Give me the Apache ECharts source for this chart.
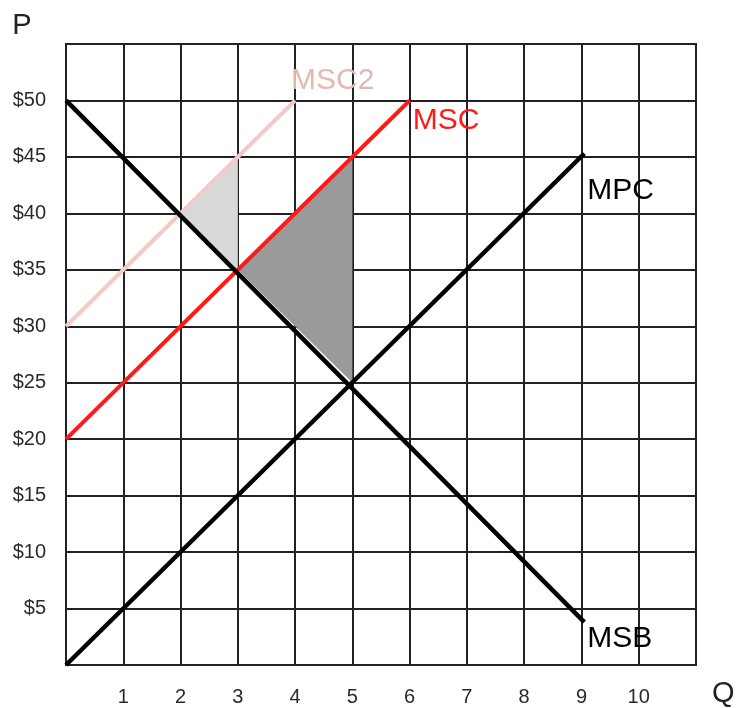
<!DOCTYPE html>
<html>
<head>
<meta charset="utf-8">
<script src="https://cdn.jsdelivr.net/npm/echarts@6/dist/echarts.min.js"></script>
<style>
html,body{margin:0;padding:0;background:#fff;}
#chart{width:744px;height:708px;}
</style>
</head>
<body>
<div id="chart"></div>
<script>
// ---- data ----
const qTicks = [1, 2, 3, 4, 5, 6, 7, 8, 9, 10];
const priceTicks = [5, 10, 15, 20, 25, 30, 35, 40, 45, 50];
const mpcLine = [[0, 0], [9.05, 45.3]];
const msbLine = [[0, 50], [9.05, 3.8]];
const mscLine = [[0, 20], [6, 50]];
const msc2Line = [[0, 30], [4, 50]];
const lightTriangle = [[2, 40], [3, 45], [3, 35]];
const darkTriangle = [[3, 35], [5, 45], [5, 25]];

const FONT = '"Liberation Sans", Arial, sans-serif';

function polygonSeries(points, color) {
  return {
    type: 'custom',
    coordinateSystem: 'cartesian2d',
    data: [0],
    silent: true,
    z: 1,
    renderItem: function (params, api) {
      return {
        type: 'polygon',
        shape: { points: points.map(p => api.coord(p)) },
        style: { fill: color, stroke: null }
      };
    }
  };
}

function lineSeries(data, color, width, name, labelColor, offset) {
  return {
    type: 'line',
    data: data,
    showSymbol: false,
    symbol: 'none',
    clip: false,
    z: 3,
    lineStyle: { color: color, width: width, cap: 'butt' },
    endLabel: {
      show: true,
      formatter: name,
      color: labelColor,
      fontSize: 30,
      fontFamily: FONT,
      offset: offset
    },
    animation: false
  };
}

const chart = echarts.init(document.getElementById('chart'), null, { renderer: 'canvas' });
chart.setOption({
  animation: false,
  backgroundColor: '#fff',
  grid: {
    left: 66, top: 44, width: 630, height: 621,
    outerBoundsMode: 'none', containLabel: false,
    show: true, borderColor: '#222', borderWidth: 2, backgroundColor: 'transparent'
  },
  xAxis: {
    type: 'value', min: 0, max: 11, interval: 1,
    name: 'Q', nameLocation: 'end', nameGap: 16,
    nameTextStyle: { fontSize: 29, fontFamily: FONT, color: '#222', verticalAlign: 'top', padding: [14, 0, 0, 0] },
    axisLine: { show: true, lineStyle: { color: '#222', width: 2 } },
    axisTick: { show: false },
    axisLabel: {
      margin: 22, fontSize: 20, fontFamily: FONT, color: '#2a2a2a',
      formatter: v => qTicks.includes(v) ? String(v) : ''
    },
    splitLine: { show: true, lineStyle: { color: '#222', width: 2 } }
  },
  yAxis: {
    type: 'value', min: 0, max: 55, interval: 5,
    name: 'P', nameLocation: 'end', nameGap: 4,
    nameTextStyle: { fontSize: 29, fontFamily: FONT, color: '#222', align: 'center', padding: [0, 88, 0, 0] },
    axisLine: { show: true, lineStyle: { color: '#222', width: 2 } },
    axisTick: { show: false },
    axisLabel: {
      margin: 20, fontSize: 20, fontFamily: FONT, color: '#2a2a2a',
      formatter: v => priceTicks.includes(v) ? '$' + v : ''
    },
    splitLine: { show: true, lineStyle: { color: '#222', width: 2 } }
  },
  series: [
    polygonSeries(lightTriangle, '#d9d9d9'),
    polygonSeries(darkTriangle, '#9a9a9a'),
    lineSeries(msc2Line, '#f2cbc7', 4, 'MSC2', '#e3b8b3', [-12, -20]),
    lineSeries(mscLine, '#ff1a1a', 4, 'MSC', '#ff1a1a', [-5, 20]),
    lineSeries(mpcLine, '#000', 4.5, 'MPC', '#000', [-5, 37]),
    lineSeries(msbLine, '#000', 4.5, 'MSB', '#000', [-5, 17])
  ]
});
</script>
</body>
</html>
